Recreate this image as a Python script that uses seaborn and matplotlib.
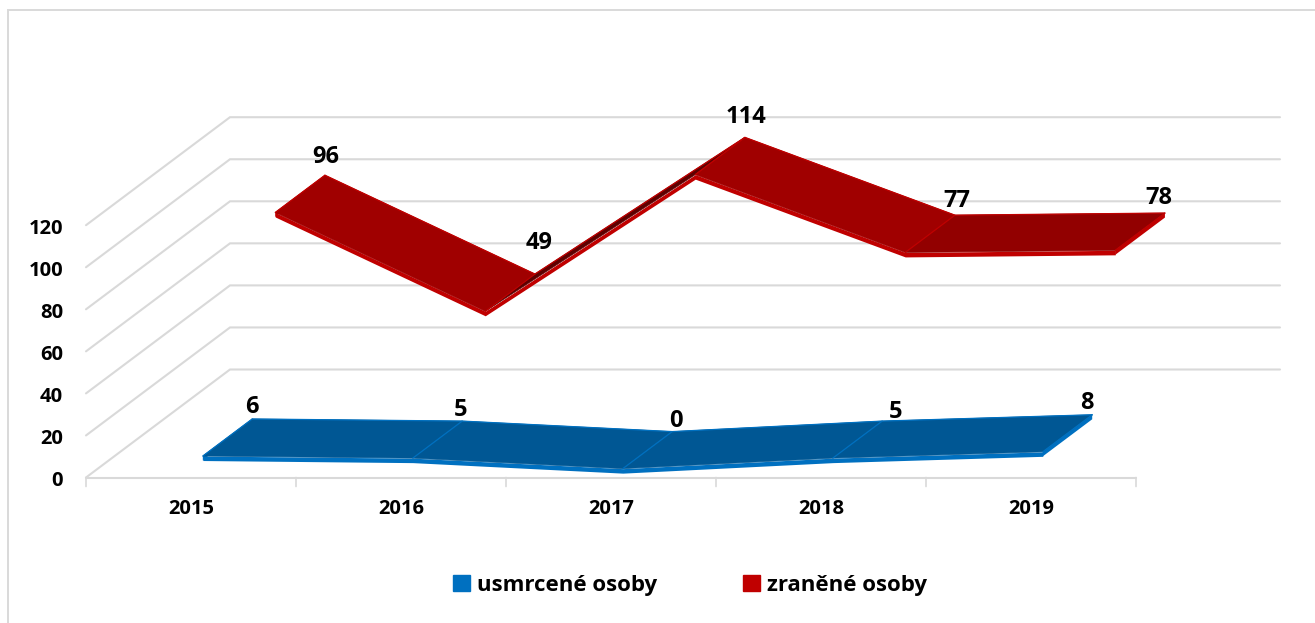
"""Pseudo 3D line chart of road accident victims, drawn with a sheared 2D projection."""

import matplotlib

matplotlib.use("Agg")
import matplotlib.pyplot as plt
import numpy as np
import pandas as pd
import seaborn as sns
from matplotlib.patches import Patch, Rectangle

YEARS = ["2015", "2016", "2017", "2018", "2019"]
KILLED = [6, 5, 0, 5, 8]
INJURED = [96, 49, 114, 77, 78]
VALUE_TICKS = [0, 20, 40, 60, 80, 100, 120]
SERIES_NAMES = ["usmrcené osoby", "zraněné osoby"]

WIDTH, HEIGHT = 1315, 623
CAT_PX = 210
VAL_PX = 2.1025
ORIGIN_X, ORIGIN_Y = 191, 477.5
DEPTH_X = 144 / CAT_PX
DEPTH_Y = 108 / VAL_PX
EDGE = 4.5 / VAL_PX

GRID = "#D9D9D9"
BLUE_EDGE, RED_EDGE = "#0070C0", "#C00000"
BLUE_FACES = ["#005794", "#005794", "#005794", "#005794"]
RED_FACES = ["#A00000", "#5E0000", "#A00000", "#920000"]

# label nudges from the back corner of each ribbon, in pixels
KILLED_NUDGE = [(0, 12), (-2, 11), (4, 11), (13, 9), (-5, 12)]
INJURED_NUDGE = [(1, 18), (4, 31), (1, 20), (2, 14), (-6, 15)]


def project(cat, value, depth):
    return np.asarray(cat) + depth * DEPTH_X, np.asarray(value) + depth * DEPTH_Y


def draw_ribbon(ax, values, near, far, faces, edge, nudges):
    cats = np.arange(len(values), dtype=float)
    values = np.asarray(values, dtype=float)
    fx, fy = project(cats, values, near)
    bx, by = project(cats, values, far)

    # extruded front edge and the side at the last point
    ax.fill(
        [fx[-1], bx[-1], bx[-1], fx[-1]],
        [fy[-1], by[-1], by[-1] - EDGE, fy[-1] - EDGE],
        color=edge,
        lw=0,
        zorder=3,
    )
    ax.fill(
        [fx[0], bx[0], fx[0]],
        [fy[0], by[0], fy[0] - EDGE],
        color=edge,
        lw=0,
        zorder=3,
    )
    ax.fill_between(fx, fy, fy - EDGE, color=edge, lw=0, zorder=3)

    for i, face in enumerate(faces):
        ax.fill(
            [fx[i], fx[i + 1], bx[i + 1], bx[i]],
            [fy[i], fy[i + 1], by[i + 1], by[i]],
            facecolor=face,
            edgecolor=face,
            lw=0.5,
            zorder=4,
        )
    for i in range(len(values)):
        ax.plot([fx[i], bx[i]], [fy[i], by[i]], color=edge, lw=0.9, zorder=5)

    outline = pd.DataFrame({"x": bx, "y": by})
    sns.lineplot(data=outline, x="x", y="y", color=edge, lw=0.9, estimator=None, ax=ax, zorder=5)

    for i, value in enumerate(values):
        ax.annotate(
            f"{value:.0f}",
            (bx[i], by[i]),
            xytext=nudges[i],
            textcoords="offset pixels",
            ha="center",
            va="center",
            fontsize=17,
            fontweight="bold",
            color="black",
            zorder=6,
        )


def draw_walls(ax):
    n = len(YEARS)
    for value in VALUE_TICKS:
        x0, y0 = project(-0.5, value, 0)
        x1, y1 = project(-0.5, value, 1)
        x2 = x1 + n
        ax.plot([x0, x1, x2], [y0, y1, y1], color=GRID, lw=1.5, zorder=1, solid_joinstyle="miter")
        ax.annotate(
            str(value),
            (x0, value),
            xytext=(-23, -4),
            textcoords="offset pixels",
            ha="right",
            va="center",
            fontsize=14.5,
            fontweight="bold",
            color="black",
        )

    ax.plot([-0.5, n - 0.5], [0, 0], color=GRID, lw=1.5, zorder=1)
    for i in range(n + 1):
        ax.annotate(
            "",
            (i - 0.5, 0),
            xytext=(i - 0.5, -9 / VAL_PX),
            arrowprops={"arrowstyle": "-", "color": GRID, "lw": 1.2, "shrinkA": 0, "shrinkB": 0},
        )
    for i, year in enumerate(YEARS):
        ax.annotate(
            year,
            (i, 0),
            xytext=(0, -32),
            textcoords="offset pixels",
            ha="center",
            va="center",
            fontsize=14.5,
            fontweight="bold",
            color="black",
        )


def main():
    sns.set_theme(style="white")
    plt.rcParams["font.family"] = ["Open Sans", "DejaVu Sans"]

    fig = plt.figure(figsize=(WIDTH / 100, HEIGHT / 100), dpi=100)
    ax = fig.add_axes([0, 0, 1, 1])
    ax.set_xlim(-ORIGIN_X / CAT_PX, (WIDTH - ORIGIN_X) / CAT_PX)
    ax.set_ylim((ORIGIN_Y - HEIGHT) / VAL_PX, ORIGIN_Y / VAL_PX)
    ax.axis("off")

    fig.add_artist(
        Rectangle(
            (8 / WIDTH, -0.01),
            (WIDTH + 20) / WIDTH,
            1 + 0.01 - 9.5 / HEIGHT,
            transform=fig.transFigure,
            fill=False,
            edgecolor=GRID,
            lw=1.4,
        )
    )

    draw_walls(ax)
    draw_ribbon(ax, INJURED, 0.585, 0.93, RED_FACES, RED_EDGE, INJURED_NUDGE)
    draw_ribbon(ax, KILLED, 0.082, 0.425, BLUE_FACES, BLUE_EDGE, KILLED_NUDGE)
    ax.set_xlabel("")
    ax.set_ylabel("")

    handles = [Patch(color=BLUE_EDGE, label=SERIES_NAMES[0]), Patch(color=RED_EDGE, label=SERIES_NAMES[1])]
    ax.legend(
        handles=handles,
        ncol=2,
        loc="center",
        bbox_to_anchor=(690 / WIDTH, 1 - 585 / HEIGHT),
        frameon=False,
        handlelength=0.75,
        handleheight=0.75,
        handletextpad=0.3,
        columnspacing=3.9,
        labelcolor="black",
        prop={"size": 16, "weight": "bold"},
    )

    fig.savefig("out.png", dpi=100, facecolor="white")


if __name__ == "__main__":
    main()
